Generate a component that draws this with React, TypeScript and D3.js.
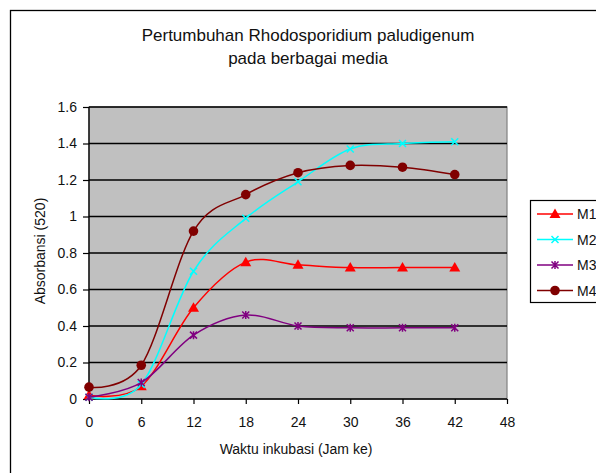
import * as d3 from "d3";
import { useEffect, useRef } from "react";

const hours = [0, 6, 12, 18, 24, 30, 36, 42];
const m1 = [0.02, 0.07, 0.5, 0.75, 0.735, 0.72, 0.72, 0.72];
const m2 = [0.01, 0.08, 0.7, 0.99, 1.19, 1.37, 1.4, 1.41];
const m3 = [0.01, 0.09, 0.35, 0.46, 0.4, 0.39, 0.39, 0.39];
const m4 = [0.065, 0.185, 0.92, 1.12, 1.24, 1.28, 1.27, 1.23];
const seriesNames = ["M1", "M2", "M3", "M4"];
const xTicks = [0, 6, 12, 18, 24, 30, 36, 42, 48];
const yTicks = [0, 0.2, 0.4, 0.6, 0.8, 1, 1.2, 1.4, 1.6];

const colors = ["#ff0000", "#00ffff", "#800080", "#800000"];
const markers = ["triangle", "x", "star", "circle"];

function GrowthChart() {
  const ref = useRef<SVGSVGElement>(null);

  useEffect(() => {
    const svg = d3.select(ref.current);
    const width = 596;
    const height = 473;
    const font = "Liberation Sans, Arial, sans-serif";
    svg.selectAll("*").remove();

    const x = d3.scaleLinear().domain([0, 48]).range([89, 507]);
    const y = d3.scaleLinear().domain([0, 1.6]).range([399, 107]);

    // outer chart frame
    svg
      .append("rect")
      .attr("x", 10.5)
      .attr("y", 10.5)
      .attr("width", width)
      .attr("height", height)
      .attr("fill", "#fff")
      .attr("stroke", "#000")
      .attr("stroke-width", 1.3);

    const title = svg
      .append("text")
      .attr("font-family", font)
      .attr("font-size", 17)
      .attr("text-anchor", "middle")
      .attr("fill", "#111");
    title.append("tspan").attr("x", 308).attr("y", 40.5).text("Pertumbuhan Rhodosporidium paludigenum");
    title.append("tspan").attr("x", 308).attr("y", 63.5).text("pada berbagai media");

    // plot area
    svg
      .append("rect")
      .attr("x", x(0))
      .attr("y", y(1.6))
      .attr("width", x(48) - x(0))
      .attr("height", y(0) - y(1.6))
      .attr("fill", "#c0c0c0")
      .attr("stroke", "#808080")
      .attr("stroke-width", 1.2);

    svg
      .append("g")
      .selectAll("line")
      .data(yTicks.slice(1))
      .join("line")
      .attr("x1", x(0))
      .attr("x2", x(48))
      .attr("y1", (d) => y(d))
      .attr("y2", (d) => y(d))
      .attr("stroke", "#000")
      .attr("stroke-width", 1.3);

    const xAxis = svg
      .append("g")
      .attr("transform", `translate(0,${y(0)})`)
      .call(d3.axisBottom(x).tickValues(xTicks).tickSize(5).tickPadding(13).tickFormat((d) => String(d)));
    xAxis.select(".domain").attr("stroke", "#000").attr("stroke-width", 1.3).attr("d", `M${x(0)},0H${x(48)}`);

    const yAxis = svg
      .append("g")
      .attr("transform", `translate(${x(0)},0)`)
      .call(d3.axisLeft(y).tickValues(yTicks).tickSize(6).tickPadding(6).tickFormat((d) => String(d)));
    yAxis.select(".domain").attr("stroke", "#000").attr("stroke-width", 1.3).attr("d", `M0,${y(0)}V${y(1.6)}`);

    [xAxis, yAxis].forEach((g) => {
      g.selectAll("text").attr("font-family", font).attr("font-size", 14).attr("fill", "#111");
      g.selectAll(".tick line").attr("stroke-width", 1.2);
    });

    svg
      .append("text")
      .attr("x", 296)
      .attr("y", 454)
      .attr("text-anchor", "middle")
      .attr("font-family", font)
      .attr("font-size", 14)
      .attr("fill", "#111")
      .text("Waktu inkubasi (Jam ke)");

    svg
      .append("text")
      .attr("transform", `translate(45,251) rotate(-90)`)
      .attr("text-anchor", "middle")
      .attr("font-family", font)
      .attr("font-size", 14)
      .attr("fill", "#111")
      .text("Absorbansi (520)");

    const allSeries = [m1, m2, m3, m4];
    const line = d3
      .line<number>()
      .x((_, i) => x(hours[i]))
      .y((d) => y(d))
      .curve(d3.curveCardinal.tension(0));

    const drawMarker = (g: any, kind: string, cx: number, cy: number, color: string) => {
      if (kind === "triangle") {
        g.append("path")
          .attr("d", `M${cx},${cy - 5.5}L${cx + 5.5},${cy + 4}L${cx - 5.5},${cy + 4}Z`)
          .attr("fill", color);
      } else if (kind === "circle") {
        g.append("circle").attr("cx", cx).attr("cy", cy).attr("r", 4.8).attr("fill", color);
      } else {
        const s = 3.5;
        let p = `M${cx - s},${cy - s}L${cx + s},${cy + s}M${cx - s},${cy + s}L${cx + s},${cy - s}`;
        if (kind === "star") p += `M${cx},${cy - s - 0.5}V${cy + s + 0.5}`;
        g.append("path").attr("d", p).attr("stroke", color).attr("stroke-width", 1.5).attr("fill", "none");
      }
    };

    allSeries.forEach((values, si) => {
      const g = svg.append("g");
      g.append("path")
        .attr("d", line(values))
        .attr("fill", "none")
        .attr("stroke", colors[si])
        .attr("stroke-width", 1.5);
      values.forEach((v, i) => drawMarker(g, markers[si], x(hours[i]), y(v), colors[si]));
    });

    // legend
    const lg = svg.append("g");
    lg.append("rect")
      .attr("x", 530.5)
      .attr("y", 200.5)
      .attr("width", 80)
      .attr("height", 102)
      .attr("fill", "#fff")
      .attr("stroke", "#000")
      .attr("stroke-width", 1.2);
    seriesNames.forEach((name, si) => {
      const ly = 214 + si * 25.5;
      lg.append("line")
        .attr("x1", 537)
        .attr("x2", 573)
        .attr("y1", ly)
        .attr("y2", ly)
        .attr("stroke", colors[si])
        .attr("stroke-width", 1.5);
      drawMarker(lg, markers[si], 555, ly, colors[si]);
      lg.append("text")
        .attr("x", 577)
        .attr("y", ly + 5)
        .attr("font-family", font)
        .attr("font-size", 14)
        .attr("fill", "#111")
        .text(name);
    });
  }, []);

  return (
    <svg
      ref={ref}
      width={596}
      height={473}
      style={{ position: "absolute", left: 0, top: 0 }}
    />
  );
}

export default function App() {
  return <GrowthChart />;
}
